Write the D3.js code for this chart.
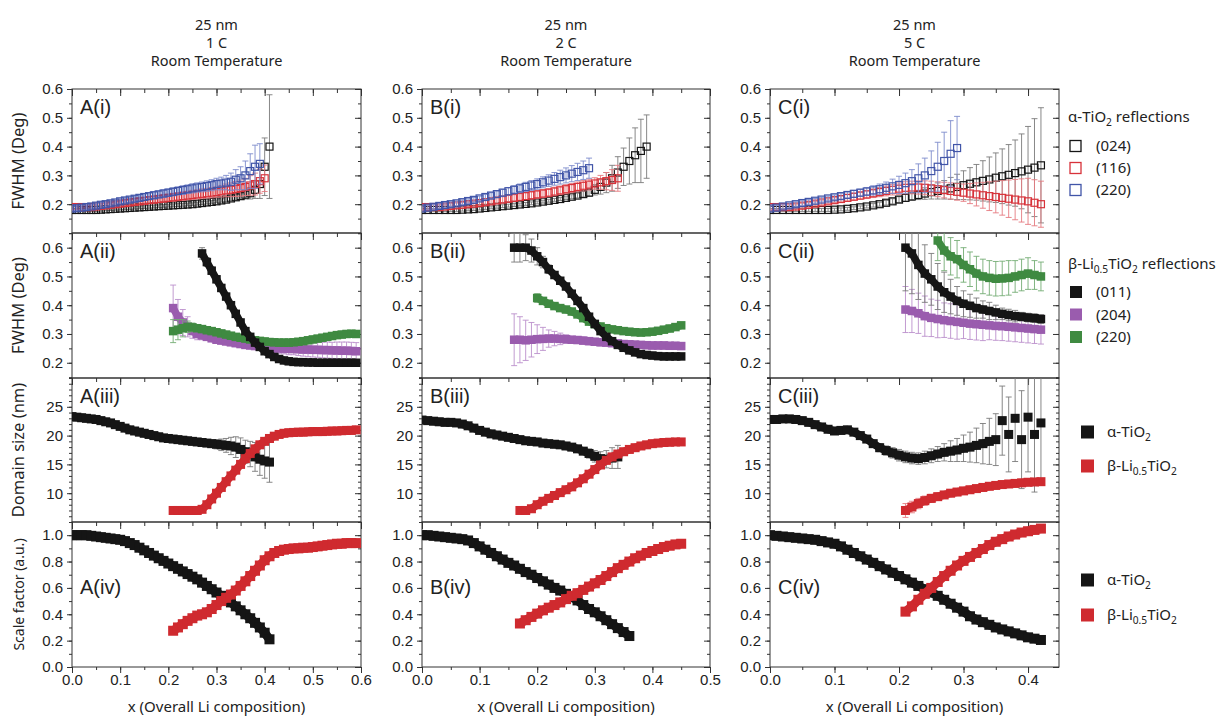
<!DOCTYPE html>
<html>
<head>
<meta charset="utf-8">
<script src="https://cdn.jsdelivr.net/npm/d3@7"></script>
<style>
body { margin: 0; background: #fff; }
svg text { font-family: "Liberation Sans", Arial, sans-serif; fill: #222; }
svg text.lbl { font-family: "Noto Sans", "Open Sans", sans-serif; }
</style>
</head>
<body>
<svg id="chart"></svg>
<script>
// ---- data (x grid step 0.01, starting at the given composition) ----
var colTitles = [["25 nm", "1 C", "Room Temperature"], ["25 nm", "2 C", "Room Temperature"], ["25 nm", "5 C", "Room Temperature"]]
var colKeys = ["A", "B", "C"]
var rowKeys = ["(i)", "(ii)", "(iii)", "(iv)"]
var xTicksA = [0, 0.1, 0.2, 0.3, 0.4, 0.5, 0.6]
var xTicksB = [0, 0.1, 0.2, 0.3, 0.4, 0.5]
var xTicksC = [0, 0.1, 0.2, 0.3, 0.4]
var yTicks1 = [0.2, 0.3, 0.4, 0.5, 0.6]
var yTicks2 = [0.2, 0.3, 0.4, 0.5, 0.6]
var yTicks3 = [10, 15, 20, 25]
var yTicks4 = [0, 0.2, 0.4, 0.6, 0.8, 1.0]

// row (i): alpha-TiO2 FWHM
var A1_024 = [0.18,0.18,0.18,0.18,0.18,0.18,0.181,0.182,0.183,0.184,0.185, 0.186,0.187,0.188,0.189,0.19,0.191,0.192,0.193,0.194,0.195, 0.196,0.197,0.198,0.199,0.2,0.202,0.204,0.206,0.208,0.21, 0.213,0.216,0.22,0.224,0.228,0.233,0.238,0.25,0.27,0.33,0.4]
var A1_024_err = [0.005,0.005,0.005,0.005,0.005,0.005,0.005,0.005,0.005,0.005,0.005, 0.005,0.005,0.005,0.005,0.005,0.005,0.005,0.005,0.005,0.005, 0.005,0.005,0.005,0.005,0.005,0.005,0.005,0.005,0.005,0.005, 0.006,0.007,0.008,0.01,0.012,0.015,0.02,0.03,0.05,0.1,0.18]
var A1_116 = [0.19,0.19,0.19,0.19,0.19,0.192,0.194,0.196,0.198,0.2,0.202, 0.204,0.206,0.208,0.21,0.212,0.214,0.216,0.218,0.22,0.222, 0.224,0.226,0.228,0.23,0.232,0.234,0.236,0.238,0.24,0.242, 0.245,0.248,0.25,0.253,0.256,0.26,0.265,0.27,0.28,0.29]
var A1_116_err = [0.008,0.008,0.008,0.008,0.008,0.008,0.008,0.008,0.008,0.008,0.008, 0.009,0.009,0.01,0.01,0.011,0.011,0.012,0.012,0.013,0.013, 0.014,0.014,0.015,0.015,0.016,0.016,0.017,0.017,0.018,0.018, 0.02,0.022,0.024,0.026,0.028,0.03,0.034,0.038,0.042,0.046]
var A1_220 = [0.185,0.186,0.188,0.19,0.192,0.195,0.198,0.2,0.203,0.206,0.21, 0.213,0.216,0.219,0.222,0.225,0.228,0.231,0.234,0.237,0.24, 0.243,0.246,0.249,0.252,0.255,0.258,0.26,0.263,0.266,0.27, 0.272,0.275,0.278,0.285,0.29,0.3,0.315,0.33,0.34]
var A1_220_err = [0.008,0.008,0.008,0.008,0.008,0.008,0.008,0.008,0.008,0.008,0.008, 0.009,0.009,0.01,0.01,0.011,0.011,0.012,0.012,0.013,0.013, 0.014,0.014,0.015,0.015,0.016,0.016,0.017,0.018,0.019,0.02, 0.022,0.025,0.03,0.035,0.04,0.05,0.06,0.075,0.07]
var B1_024 = [0.18,0.18,0.18,0.18,0.18,0.18,0.18,0.181,0.182,0.183,0.185, 0.187,0.189,0.191,0.193,0.195,0.197,0.199,0.201,0.203,0.206, 0.209,0.212,0.215,0.218,0.222,0.226,0.23,0.235,0.24,0.25, 0.26,0.275,0.29,0.31,0.33,0.35,0.37,0.385,0.4]
var B1_024_err = [0.005,0.005,0.005,0.005,0.005,0.005,0.005,0.005,0.005,0.005,0.005, 0.005,0.005,0.005,0.005,0.005,0.005,0.005,0.005,0.005,0.005, 0.005,0.005,0.005,0.005,0.006,0.007,0.008,0.01,0.012, 0.018,0.025,0.035,0.045,0.055,0.065,0.08,0.095,0.11,0.11]
var B1_116 = [0.19,0.19,0.19,0.19,0.192,0.194,0.196,0.198,0.2,0.202,0.204, 0.207,0.21,0.213,0.216,0.219,0.222,0.225,0.228,0.231,0.234, 0.237,0.24,0.244,0.248,0.252,0.256,0.26,0.264,0.268,0.272, 0.276,0.28,0.284,0.29]
var B1_116_err = [0.008,0.008,0.008,0.008,0.008,0.008,0.008,0.008,0.008,0.008,0.008, 0.009,0.009,0.01,0.01,0.011,0.011,0.012,0.012,0.013,0.013, 0.014,0.014,0.015,0.015,0.016,0.016,0.017,0.018,0.019,0.02, 0.024,0.03,0.036,0.045]
var B1_220 = [0.185,0.188,0.191,0.194,0.197,0.2,0.203,0.207,0.211,0.215,0.22, 0.225,0.23,0.235,0.24,0.245,0.25,0.255,0.26,0.265,0.27, 0.276,0.282,0.288,0.294,0.3,0.306,0.312,0.318,0.325]
var B1_220_err = [0.008,0.008,0.008,0.008,0.008,0.008,0.008,0.008,0.008,0.008,0.008, 0.009,0.01,0.011,0.012,0.013,0.014,0.015,0.016,0.017,0.018, 0.019,0.02,0.022,0.024,0.026,0.028,0.03,0.032,0.035]
var C1_024 = [0.18,0.18,0.18,0.18,0.18,0.18,0.18,0.18,0.18,0.18,0.181, 0.182,0.184,0.186,0.189,0.192,0.196,0.2,0.205,0.21,0.216, 0.222,0.227,0.232,0.237,0.242,0.246,0.25,0.255,0.26,0.266, 0.271,0.276,0.281,0.286,0.292,0.297,0.302,0.308,0.314,0.32,0.327,0.335]
var C1_024_err = [0.005,0.005,0.005,0.005,0.005,0.005,0.005,0.005,0.005,0.005,0.005, 0.005,0.005,0.005,0.005,0.005,0.006,0.007,0.008,0.009,0.01, 0.012,0.014,0.016,0.02,0.024,0.028,0.032,0.038,0.044,0.05, 0.056,0.062,0.07,0.078,0.086,0.095,0.105,0.115,0.13,0.15,0.17,0.2]
var C1_116 = [0.19,0.19,0.19,0.19,0.192,0.195,0.198,0.202,0.206,0.21,0.214, 0.218,0.222,0.226,0.23,0.234,0.238,0.242,0.246,0.25,0.254, 0.257,0.258,0.258,0.257,0.255,0.252,0.249,0.246,0.243,0.24, 0.237,0.234,0.231,0.228,0.225,0.222,0.219,0.216,0.213,0.21,0.205,0.2]
var C1_116_err = [0.008,0.008,0.008,0.008,0.008,0.008,0.008,0.008,0.008,0.008,0.008, 0.01,0.011,0.012,0.013,0.014,0.015,0.016,0.017,0.018,0.02, 0.021,0.022,0.023,0.024,0.025,0.026,0.027,0.028,0.029,0.03, 0.035,0.04,0.045,0.05,0.055,0.06,0.065,0.07,0.075,0.08,0.08,0.08]
var C1_220 = [0.185,0.188,0.192,0.196,0.2,0.204,0.208,0.212,0.216,0.22,0.224, 0.228,0.232,0.236,0.24,0.244,0.248,0.252,0.257,0.262,0.267, 0.273,0.28,0.29,0.3,0.315,0.33,0.35,0.375,0.395]
var C1_220_err = [0.008,0.008,0.008,0.008,0.008,0.008,0.008,0.008,0.008,0.008,0.008, 0.01,0.01,0.012,0.012,0.014,0.016,0.018,0.02,0.025,0.03, 0.035,0.04,0.05,0.06,0.07,0.085,0.1,0.115,0.11]

// row (ii): beta-Li0.5TiO2 FWHM
var A2_011 = [0.58,0.55,0.52,0.49,0.46,0.43,0.4,0.37,0.34,0.31, 0.29,0.27,0.255,0.24,0.23,0.22,0.213,0.208,0.205,0.203, 0.202,0.202,0.201,0.201,0.2,0.2,0.2,0.2,0.2,0.2, 0.2,0.2,0.2]
var A2_011_err = [0.02,0.015,0.012,0.01,0.01,0.008,0.008,0.007,0.007,0.006, 0.006,0.005,0.005,0.005,0.005,0.005,0.005,0.005,0.005,0.005, 0.005,0.005,0.005,0.005,0.005,0.005,0.005,0.005,0.005,0.005, 0.005,0.005,0.005]
var A2_204 = [0.39,0.36,0.34,0.325,0.31,0.3,0.295,0.29,0.285,0.28, 0.277,0.274,0.271,0.268,0.265,0.262,0.26,0.258,0.256,0.254, 0.252,0.25,0.25,0.249,0.248,0.248,0.247,0.246,0.246,0.245, 0.245,0.244,0.244,0.243,0.243,0.242,0.242,0.241,0.24]
var A2_204_err = [0.08,0.06,0.045,0.035,0.025,0.02,0.015,0.012,0.01,0.01, 0.01,0.01,0.01,0.01,0.01,0.01,0.01,0.01,0.01,0.01, 0.015,0.015,0.017,0.018,0.02,0.02,0.022,0.023,0.025,0.025, 0.026,0.027,0.028,0.028,0.029,0.03,0.03,0.03,0.03]
var A2_220 = [0.31,0.315,0.32,0.325,0.323,0.32,0.317,0.313,0.31,0.306, 0.302,0.298,0.294,0.29,0.287,0.284,0.281,0.278,0.276,0.274, 0.272,0.271,0.27,0.27,0.27,0.271,0.273,0.275,0.278,0.281, 0.284,0.287,0.29,0.293,0.296,0.298,0.3,0.301,0.3]
var A2_220_err = [0.04,0.035,0.03,0.02,0.015,0.01,0.01,0.01,0.01,0.01, 0.01,0.01,0.01,0.01,0.01,0.01,0.01,0.01,0.01,0.01, 0.01,0.01,0.01,0.01,0.01,0.01,0.01,0.01,0.01,0.01, 0.01,0.01,0.01,0.01,0.01,0.01,0.01,0.01,0.01]
var B2_011 = [0.6,0.6,0.6,0.59,0.57,0.55,0.525,0.505,0.485,0.465, 0.44,0.415,0.39,0.36,0.335,0.31,0.29,0.275,0.262,0.252, 0.243,0.236,0.23,0.227,0.225,0.223,0.222,0.222,0.222,0.222]
var B2_011_err = [0.05,0.05,0.045,0.04,0.03,0.02,0.015,0.012,0.01,0.01, 0.01,0.01,0.01,0.01,0.01,0.01,0.008,0.008,0.008,0.008, 0.008,0.008,0.008,0.008,0.008,0.008,0.008,0.008,0.008,0.008]
var B2_204 = [0.28,0.28,0.278,0.28,0.282,0.283,0.284,0.284,0.283,0.282, 0.28,0.279,0.277,0.275,0.273,0.271,0.27,0.268,0.267,0.265, 0.264,0.263,0.262,0.261,0.26,0.26,0.26,0.259,0.259,0.258]
var B2_204_err = [0.09,0.08,0.07,0.06,0.05,0.04,0.03,0.025,0.02,0.015, 0.012,0.012,0.012,0.012,0.012,0.012,0.012,0.012,0.012,0.012, 0.012,0.012,0.012,0.012,0.012,0.012,0.012,0.012,0.012,0.012]
var B2_220 = [0.425,0.415,0.405,0.397,0.39,0.385,0.378,0.368,0.355,0.343, 0.334,0.326,0.32,0.316,0.313,0.31,0.308,0.306,0.305,0.306, 0.308,0.311,0.315,0.319,0.324,0.33]
var B2_220_err = [0.015,0.012,0.01,0.01,0.01,0.01,0.01,0.01,0.01,0.01, 0.01,0.01,0.01,0.01,0.01,0.01,0.01,0.01,0.01,0.01, 0.01,0.01,0.01,0.01,0.01,0.01]
var C2_011 = [0.6,0.58,0.54,0.51,0.49,0.465,0.445,0.43,0.415,0.405, 0.398,0.39,0.385,0.38,0.375,0.37,0.366,0.362,0.36,0.357, 0.355,0.352]
var C2_011_err = [0.15,0.14,0.12,0.1,0.09,0.08,0.07,0.06,0.05,0.045, 0.04,0.035,0.03,0.03,0.025,0.02,0.02,0.02,0.015,0.015, 0.015,0.015]
var C2_204 = [0.385,0.38,0.372,0.362,0.356,0.352,0.348,0.345,0.342,0.339, 0.336,0.334,0.332,0.33,0.328,0.327,0.325,0.323,0.321,0.319, 0.317,0.315]
var C2_204_err = [0.08,0.075,0.07,0.07,0.065,0.065,0.06,0.06,0.06,0.055, 0.055,0.055,0.055,0.05,0.05,0.05,0.05,0.05,0.05,0.05, 0.05,0.05]
var C2_220 = [0.625,0.59,0.57,0.56,0.54,0.525,0.51,0.5,0.495,0.492, 0.493,0.495,0.5,0.505,0.51,0.505,0.5]
var C2_220_err = [0.07,0.07,0.065,0.065,0.06,0.06,0.06,0.06,0.06,0.06, 0.06,0.06,0.055,0.055,0.055,0.05,0.05]

// row (iii): domain size (nm)
var A3_a = [23.3,23.2,23.1,23,22.9,22.8,22.6,22.4,22.2,21.9,21.6, 21.3,21,20.8,20.6,20.4,20.2,20,19.8,19.6,19.5, 19.4,19.3,19.2,19.1,19,18.9,18.8,18.7,18.6,18.5, 18.4,18.3,18.2,18,17.6,17.2,16.8,16.3,15.9,15.6,15.4]
var A3_a_err = [0.2,0.2,0.2,0.2,0.2,0.2,0.2,0.2,0.2,0.2,0.2, 0.2,0.2,0.2,0.2,0.2,0.2,0.2,0.2,0.2,0.2, 0.2,0.2,0.2,0.2,0.2,0.3,0.4,0.5,0.6,0.8, 1,1.2,1.5,1.8,2,2,2.2,2.5,2.8,3,3.5]
var A3_b = [7,7,7,7,7,7,7.2,8,9,10, 11,12,13,14,15,16,16.9,17.7,18.4,19, 19.5,19.9,20.2,20.4,20.5,20.55,20.6,20.6,20.65,20.7, 20.7,20.7,20.75,20.8,20.8,20.85,20.9,20.9,21]
var B3_a = [22.7,22.6,22.5,22.4,22.3,22.3,22.2,22,21.7,21.3,20.9, 20.6,20.3,20.1,19.9,19.7,19.5,19.3,19.1,19,18.9, 18.7,18.6,18.5,18.4,18.2,18,17.7,17.3,16.9,16.4, 16,15.9,16.1,16.3]
var B3_a_err = [0.2,0.2,0.2,0.2,0.2,0.2,0.2,0.2,0.2,0.2,0.2, 0.2,0.2,0.2,0.2,0.2,0.2,0.2,0.2,0.2,0.2, 0.2,0.2,0.2,0.2,0.2,0.2,0.4,0.6,0.8,1, 1.2,1.5,1.8,2]
var B3_b = [7,7,7.3,8,8.6,9.1,9.6,10.1,10.6,11.1, 11.8,12.5,13.3,14.1,14.9,15.7,16.3,16.8,17.2,17.6, 17.9,18.2,18.4,18.6,18.7,18.8,18.85,18.9,18.9]
var C3_a = [22.8,22.8,22.9,22.9,22.8,22.6,22.3,21.9,21.5,21.1,20.8, 20.9,21,20.6,20,19.4,18.6,17.9,17.4,17,16.6, 16.3,16.1,16,16.2,16.5,16.8,17.1,17.3,17.5,17.8, 18,18.3,18.6,19,19.3,22.6,20.2,23,19.3,23.2,20.2,22.2]
var C3_a_err = [0.2,0.2,0.2,0.2,0.2,0.2,0.2,0.2,0.2,0.2,0.2, 0.2,0.2,0.2,0.4,0.5,0.6,0.7,0.8,0.9,1, 1,1,1,1.1,1.2,1.3,1.5,1.8,2,2.3, 2.6,3,3.5,4,4.5,6,6.5,7.5,8.5,9.5,10,10]
var C3_b = [7,7.6,8.2,8.7,9.1,9.4,9.7,10,10.2,10.4, 10.6,10.8,11,11.2,11.35,11.5,11.6,11.7,11.8,11.9, 11.95,12]
var C3_b_err = [1.2,1,0.9,0.8,0.7,0.6,0.5,0.4,0.3,0.3, 0.3,0.3,0.3,0.3,0.3,0.3,0.3,0.3,0.3,0.3, 0.3,0.3]

// row (iv): scale factor
var A4_a = [1,1,1,1,0.995,0.99,0.985,0.98,0.975,0.97,0.965, 0.955,0.94,0.925,0.905,0.885,0.865,0.845,0.825,0.805,0.785, 0.765,0.745,0.725,0.705,0.685,0.665,0.64,0.615,0.59,0.565, 0.54,0.515,0.49,0.46,0.43,0.4,0.37,0.335,0.3,0.26,0.21]
var A4_b = [0.275,0.3,0.325,0.35,0.37,0.39,0.4,0.415,0.44,0.47, 0.5,0.525,0.55,0.58,0.615,0.65,0.69,0.73,0.77,0.81, 0.84,0.865,0.88,0.89,0.895,0.9,0.9,0.905,0.905,0.91, 0.915,0.92,0.925,0.93,0.935,0.935,0.94,0.94,0.94]
var B4_a = [1,1,0.995,0.99,0.985,0.98,0.975,0.97,0.96,0.94,0.915, 0.89,0.865,0.84,0.815,0.79,0.77,0.745,0.72,0.7,0.675, 0.65,0.625,0.6,0.58,0.555,0.53,0.505,0.47,0.44,0.415, 0.385,0.355,0.325,0.295,0.265,0.235]
var B4_b = [0.33,0.355,0.38,0.405,0.43,0.45,0.47,0.49,0.515,0.54, 0.56,0.585,0.61,0.635,0.66,0.69,0.72,0.75,0.775,0.8, 0.825,0.845,0.865,0.88,0.895,0.91,0.92,0.93,0.935]
var C4_a = [1,0.995,0.99,0.985,0.98,0.975,0.97,0.965,0.955,0.945,0.935, 0.915,0.89,0.865,0.84,0.815,0.79,0.765,0.74,0.715,0.69, 0.665,0.64,0.615,0.59,0.565,0.54,0.51,0.48,0.45,0.42, 0.385,0.36,0.34,0.32,0.3,0.285,0.27,0.255,0.24,0.225,0.215,0.205]
var C4_b = [0.42,0.46,0.51,0.555,0.6,0.645,0.69,0.73,0.77,0.805, 0.835,0.865,0.895,0.925,0.95,0.97,0.99,1.005,1.02,1.03, 1.04,1.05]

var black = "#151515", red1 = "#d8323a", blue = "#4155a8", purple = "#9a5cae", green = "#3f8a41", red = "#cf2a2f"
var errBlack = "#7a7a7a", errRed = "#e57b80", errBlue = "#7d8bcc", errPurple = "#bb90cc", errGreen = "#74ad74"

var series = [
    {col: 0, row: 0, start: 0, y: A1_024, err: A1_024_err, color: black, ecol: errBlack, shape: "open"},
    {col: 0, row: 0, start: 0, y: A1_116, err: A1_116_err, color: red1, ecol: errRed, shape: "open"},
    {col: 0, row: 0, start: 0, y: A1_220, err: A1_220_err, color: blue, ecol: errBlue, shape: "open"},
    {col: 1, row: 0, start: 0, y: B1_024, err: B1_024_err, color: black, ecol: errBlack, shape: "open"},
    {col: 1, row: 0, start: 0, y: B1_116, err: B1_116_err, color: red1, ecol: errRed, shape: "open"},
    {col: 1, row: 0, start: 0, y: B1_220, err: B1_220_err, color: blue, ecol: errBlue, shape: "open"},
    {col: 2, row: 0, start: 0, y: C1_024, err: C1_024_err, color: black, ecol: errBlack, shape: "open"},
    {col: 2, row: 0, start: 0, y: C1_116, err: C1_116_err, color: red1, ecol: errRed, shape: "open"},
    {col: 2, row: 0, start: 0, y: C1_220, err: C1_220_err, color: blue, ecol: errBlue, shape: "open"},

    {col: 0, row: 1, start: 0.21, y: A2_204, err: A2_204_err, color: purple, ecol: errPurple},
    {col: 0, row: 1, start: 0.21, y: A2_220, err: A2_220_err, color: green, ecol: errGreen},
    {col: 0, row: 1, start: 0.27, y: A2_011, err: A2_011_err, color: black, ecol: errBlack},
    {col: 1, row: 1, start: 0.16, y: B2_204, err: B2_204_err, color: purple, ecol: errPurple},
    {col: 1, row: 1, start: 0.20, y: B2_220, err: B2_220_err, color: green, ecol: errGreen},
    {col: 1, row: 1, start: 0.16, y: B2_011, err: B2_011_err, color: black, ecol: errBlack},
    {col: 2, row: 1, start: 0.21, y: C2_204, err: C2_204_err, color: purple, ecol: errPurple},
    {col: 2, row: 1, start: 0.26, y: C2_220, err: C2_220_err, color: green, ecol: errGreen},
    {col: 2, row: 1, start: 0.21, y: C2_011, err: C2_011_err, color: black, ecol: errBlack},

    {col: 0, row: 2, start: 0, y: A3_a, err: A3_a_err, color: black, ecol: errBlack},
    {col: 0, row: 2, start: 0.21, y: A3_b, color: red, ecol: errRed},
    {col: 1, row: 2, start: 0, y: B3_a, err: B3_a_err, color: black, ecol: errBlack},
    {col: 1, row: 2, start: 0.17, y: B3_b, color: red, ecol: errRed},
    {col: 2, row: 2, start: 0, y: C3_a, err: C3_a_err, color: black, ecol: errBlack, scatter: true},
    {col: 2, row: 2, start: 0.21, y: C3_b, err: C3_b_err, color: red, ecol: errRed},

    {col: 0, row: 3, start: 0, y: A4_a, color: black},
    {col: 0, row: 3, start: 0.21, y: A4_b, color: red},
    {col: 1, row: 3, start: 0, y: B4_a, color: black},
    {col: 1, row: 3, start: 0.17, y: B4_b, color: red},
    {col: 2, row: 3, start: 0, y: C4_a, color: black},
    {col: 2, row: 3, start: 0.21, y: C4_b, color: red}
]

// ---- layout ----
var width = 1224, height = 724
var svg = d3.select("#chart").attr("width", width).attr("height", height)

var cols = [
    {left: 72, right: 361, xmax: 0.6, ticks: xTicksA},
    {left: 422, right: 710, xmax: 0.5, ticks: xTicksB},
    {left: 770, right: 1059, xmax: 0.448, ticks: xTicksC}
]
var rows = [
    {top: 89, bottom: 233, domain: [0.1, 0.6], ticks: yTicks1, minor: 0.05, fmt: d3.format(".1f"), size: 7},
    {top: 233, bottom: 378, domain: [0.147, 0.651], ticks: yTicks2, minor: 0.05, fmt: d3.format(".1f"), size: 8.5},
    {top: 378, bottom: 522, domain: [5, 30], ticks: yTicks3, minor: 1, fmt: d3.format("d"), size: 9},
    {top: 522, bottom: 667, domain: [0, 1.1], ticks: yTicks4, minor: 0.1, fmt: d3.format(".1f"), size: 10}
]
var yTitles = ["FWHM (Deg)", "FWHM (Deg)", "Domain size (nm)", "Scale factor (a.u.)"]

function xScale(c) {
    return d3.scaleLinear().domain([0, cols[c].xmax]).range([cols[c].left, cols[c].right])
}
function yScale(r) {
    return d3.scaleLinear().domain(rows[r].domain).range([rows[r].bottom, rows[r].top])
}
function minorTicks(lo, hi, step) {
    return d3.range(Math.round(lo / step), Math.round(hi / step) + 1).map(function(k) { return +(k * step).toFixed(4) })
        .filter(function(v) { return v >= lo - 1e-9 && v <= hi + 1e-9 })
}
function styleAxis(g, size) {
    g.select(".domain").remove()
    g.selectAll(".tick line").attr("stroke", "#333")
    g.selectAll(".tick text").attr("font-size", size).attr("font-family", "Liberation Sans, Arial, sans-serif").attr("fill", "#222")
}

var defs = svg.append("defs")
var plots = svg.append("g")

cols.forEach(function(col, c) {
    var x = xScale(c)
    var xminor = minorTicks(0, col.xmax, 0.05)
    rows.forEach(function(row, r) {
        var y = yScale(r)
        var yminor = minorTicks(row.domain[0], row.domain[1], row.minor)
        defs.append("clipPath").attr("id", "clip-" + c + "-" + r)
            .append("rect").attr("x", col.left).attr("y", row.top)
            .attr("width", col.right - col.left).attr("height", row.bottom - row.top)

        // top ticks (inward)
        plots.append("g").attr("transform", "translate(0," + row.top + ")")
            .call(d3.axisBottom(x).tickValues(xminor).tickSize(4).tickFormat(""))
            .call(styleAxis, 0)
        plots.append("g").attr("transform", "translate(0," + row.top + ")")
            .call(d3.axisBottom(x).tickValues(col.ticks).tickSize(7).tickFormat(""))
            .call(styleAxis, 0)
        // left axis
        plots.append("g").attr("transform", "translate(" + col.left + ",0)")
            .call(d3.axisLeft(y).tickValues(yminor).tickSize(3).tickFormat(""))
            .call(styleAxis, 0)
        plots.append("g").attr("transform", "translate(" + col.left + ",0)")
            .call(d3.axisLeft(y).tickValues(row.ticks).tickSize(5).tickPadding(4).tickFormat(row.fmt))
            .call(styleAxis, 15)
        // right ticks (inward)
        plots.append("g").attr("transform", "translate(" + col.right + ",0)")
            .call(d3.axisRight(y).tickValues(yminor).tickSize(-3).tickFormat(""))
            .call(styleAxis, 0)
        plots.append("g").attr("transform", "translate(" + col.right + ",0)")
            .call(d3.axisRight(y).tickValues(row.ticks).tickSize(-6).tickFormat(""))
            .call(styleAxis, 0)
        if (r == rows.length - 1) {
            plots.append("g").attr("transform", "translate(0," + row.bottom + ")")
                .call(d3.axisBottom(x).tickValues(xminor).tickSize(3).tickFormat(""))
                .call(styleAxis, 0)
            plots.append("g").attr("transform", "translate(0," + row.bottom + ")")
                .call(d3.axisBottom(x).tickValues(col.ticks).tickSize(6).tickPadding(1).tickFormat(d3.format(".1f")))
                .call(styleAxis, 15)
        }
        plots.append("rect")
            .attr("x", col.left).attr("y", row.top)
            .attr("width", col.right - col.left).attr("height", row.bottom - row.top)
            .attr("fill", "none").attr("stroke", "#333").attr("stroke-width", 1)

        // panel label
        plots.append("text")
            .attr("x", col.left + 8)
            .attr("y", r == 3 ? row.top + 72 : row.top + 25)
            .attr("font-size", 20)
            .text(colKeys[c] + rowKeys[r])
    })
})

// ---- data marks ----
series.forEach(function(s) {
    var x = xScale(s.col), y = yScale(s.row)
    var sz = rows[s.row].size
    var pts = s.y.map(function(v, i) {
        return {x: s.start + i * 0.01, y: v, e: s.err ? s.err[i] : 0}
    })
    var g = svg.append("g").attr("clip-path", "url(#clip-" + s.col + "-" + s.row + ")")
    if (s.err) {
        var eb = g.append("g").attr("stroke", s.ecol).attr("stroke-width", 0.9).attr("fill", "none")
        pts.forEach(function(p) {
            if (!p.e) return
            var px = x(p.x), y0 = y(p.y - p.e), y1 = y(p.y + p.e)
            eb.append("line").attr("x1", px).attr("x2", px).attr("y1", y0).attr("y2", y1)
            eb.append("line").attr("x1", px - 3).attr("x2", px + 3).attr("y1", y0).attr("y2", y0)
            eb.append("line").attr("x1", px - 3).attr("x2", px + 3).attr("y1", y1).attr("y2", y1)
        })
    }
    // filled markers are so dense in the original that they read as a band
    if (s.shape != "open") {
        var band = s.scatter ? pts.filter(function(d) { return d.x < 0.345 }) : pts
        g.append("path")
            .datum(band)
            .attr("fill", "none")
            .attr("stroke", s.color)
            .attr("stroke-width", sz - 1)
            .attr("stroke-linejoin", "round")
            .attr("d", d3.line().x(function(d) { return x(d.x) }).y(function(d) { return y(d.y) }))
    }
    g.selectAll("rect.pt")
        .data(pts)
        .enter()
        .append("rect")
        .attr("class", "pt")
        .attr("x", function(d) { return x(d.x) - sz / 2 })
        .attr("y", function(d) { return y(d.y) - sz / 2 })
        .attr("width", sz)
        .attr("height", sz)
        .attr("fill", s.shape == "open" ? "none" : s.color)
        .attr("stroke", s.color)
        .attr("stroke-width", s.shape == "open" ? 1.2 : 0)
})

// ---- titles and labels ----
function chem(sel, parts) {
    parts.forEach(function(p) {
        if (typeof p == "string") sel.append("tspan").text(p)
        else sel.append("tspan").attr("font-size", p.big ? null : "68%").attr("dy", p.dy).text(p.t)
    })
}

cols.forEach(function(col, c) {
    var cx = (col.left + col.right) / 2
    colTitles[c].forEach(function(t, i) {
        svg.append("text").attr("class", "lbl").attr("x", cx).attr("y", 30 + i * 18)
            .attr("text-anchor", "middle").attr("font-size", 14.5).text(t)
    })
    svg.append("text").attr("class", "lbl").attr("x", cx).attr("y", 712)
        .attr("text-anchor", "middle").attr("font-size", 15).text("x (Overall Li composition)")
})

rows.forEach(function(row, r) {
    svg.append("text").attr("class", "lbl")
        .attr("transform", "translate(24," + (row.top + row.bottom) / 2 + ") rotate(-90)")
        .attr("text-anchor", "middle")
        .attr("font-size", r == 3 ? 14 : 16.5)
        .text(yTitles[r])
})

// ---- legends ----
var legX = 1068
var t1 = svg.append("text").attr("class", "lbl").attr("x", legX).attr("y", 122).attr("font-size", 15)
chem(t1, ["α-TiO", {t: "2", dy: 4}, {t: " reflections", dy: -4, big: true}])
var leg1 = [{label: "(024)", color: black}, {label: "(116)", color: red1}, {label: "(220)", color: blue}]
leg1.forEach(function(d, i) {
    var cy = 146 + i * 22
    svg.append("rect").attr("x", 1070).attr("y", cy - 5.5).attr("width", 11).attr("height", 11)
        .attr("fill", "none").attr("stroke", d.color).attr("stroke-width", 1.3)
    svg.append("text").attr("class", "lbl").attr("x", 1096).attr("y", cy + 5).attr("font-size", 15).text(d.label)
})

var t2 = svg.append("text").attr("class", "lbl").attr("x", legX).attr("y", 269).attr("font-size", 15)
chem(t2, ["β-Li", {t: "0.5", dy: 4}, {t: "TiO", dy: -4, big: true}, {t: "2", dy: 4}, {t: " reflections", dy: -4, big: true}])
var leg2 = [{label: "(011)", color: black}, {label: "(204)", color: purple}, {label: "(220)", color: green}]
leg2.forEach(function(d, i) {
    var cy = 292 + i * 22.5
    svg.append("rect").attr("x", 1070).attr("y", cy - 6).attr("width", 12).attr("height", 12).attr("fill", d.color)
    svg.append("text").attr("class", "lbl").attr("x", 1096).attr("y", cy + 5).attr("font-size", 15).text(d.label)
})

var phaseLegends = [[432, 466], [580, 615]]
phaseLegends.forEach(function(ys) {
    svg.append("rect").attr("x", 1081).attr("y", ys[0] - 6.5).attr("width", 13).attr("height", 13).attr("fill", black)
    var ta = svg.append("text").attr("class", "lbl").attr("x", 1107).attr("y", ys[0] + 5).attr("font-size", 15)
    chem(ta, ["α-TiO", {t: "2", dy: 4}])
    svg.append("rect").attr("x", 1081).attr("y", ys[1] - 6.5).attr("width", 13).attr("height", 13).attr("fill", red)
    var tb = svg.append("text").attr("class", "lbl").attr("x", 1107).attr("y", ys[1] + 5).attr("font-size", 15)
    chem(tb, ["β-Li", {t: "0.5", dy: 4}, {t: "TiO", dy: -4, big: true}, {t: "2", dy: 4}])
})
</script>
</body>
</html>
